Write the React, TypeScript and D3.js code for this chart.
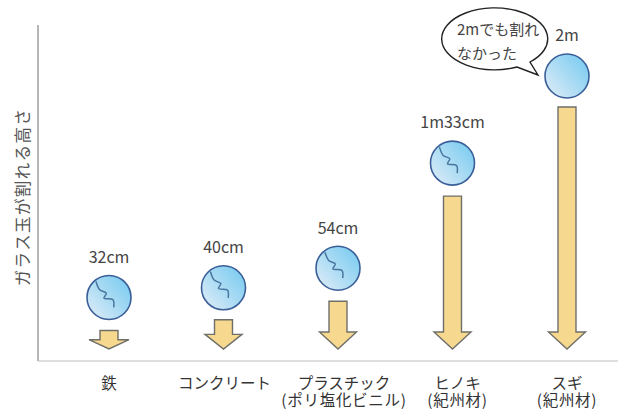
import * as d3 from "d3";

const W = 618;
const H = 411;
const FONT = "'Noto Sans CJK JP', 'Noto Sans', sans-serif";

// Categories, two-line labels, heights (cm)
const materials = ["鉄", "コンクリート", "プラスチック", "ヒノキ", "スギ"];
const subLabels = ["", "", "(ポリ塩化ビニル)", "(紀州材)", "(紀州材)"];
const heights = [32, 40, 54, 133, 200];
const heightLabels = ["32cm", "40cm", "54cm", "1m33cm", "2m"];
const cracked = [true, true, true, true, false];

// small layout nudges, the labels are not quite centred under the arrows
const labelNudge = [0, 1, 6, 5, 0];
const ballGaps = [33, 32, 33, 33, 31];

// crack shape, relative to ball centre
const crackPoints: [number, number][] = [
  [-13, -16], [-9.3, -7.7], [-2.7, -4.3], [-5, 0.7], [4, 2.3], [4.7, 10],
];

const BALL_R = 22;

export default function App() {
  const x = d3.scalePoint<string>().domain(materials).range([109, 567]);
  const y = d3.scaleLinear().domain([0, 200]).range([373, 107]);
  const crackLine = d3.line().curve(d3.curveCatmullRom);

  const arrowBottom = 349;
  const shaftW = 18;

  return (
    <svg
      width={W}
      height={H}
      style={{ position: "absolute", left: 0, top: 0, background: "#fff" }}
      fontFamily={FONT}
    >
      <defs>
        <linearGradient id="glass" x1="0.9" y1="0.15" x2="0.1" y2="0.85">
          <stop offset="0" stopColor="#7fcdf0" />
          <stop offset="1" stopColor="#d5e9f7" />
        </linearGradient>
      </defs>

      {/* Axes */}
      <line x1={38} x2={38} y1={25} y2={361} stroke="#6e6e6e" strokeWidth={1} />
      <line x1={38} x2={618} y1={361} y2={361} stroke="#bdbdbd" strokeWidth={1.2} />

      {/* Y label */}
      <text
        transform="translate(25,197) rotate(-90)"
        textAnchor="middle"
        dominantBaseline="middle"
        fontSize={16.5}
        letterSpacing={1.4}
        fill="#555"
      >
        ガラス玉が割れる高さ
      </text>

      {materials.map((m, i) => {
        const cx = x(m) ?? 0;
        const top = y(heights[i]);
        const cy = top - ballGaps[i];
        const len = arrowBottom - top;
        const headH = Math.min(17, len * 0.5);
        const headW = len < 25 ? 40 : 37;
        const headTop = arrowBottom - headH;
        const pts: [number, number][] = [
          [cx - shaftW / 2, top],
          [cx + shaftW / 2, top],
          [cx + shaftW / 2, headTop],
          [cx + headW / 2, headTop],
          [cx, arrowBottom],
          [cx - headW / 2, headTop],
          [cx - shaftW / 2, headTop],
        ];
        return (
          <g key={m}>
            <polygon
              points={pts.map((p) => p.join(",")).join(" ")}
              fill="#f6d88f"
              stroke="#6f6f6a"
              strokeWidth={1.4}
            />
            <circle cx={cx} cy={cy} r={BALL_R} fill="url(#glass)" stroke="#3a5f98" strokeWidth={1.6} />
            {cracked[i] && (
              <path
                transform={`translate(${cx},${cy})`}
                d={crackLine(crackPoints) ?? ""}
                fill="none"
                stroke="#47769f"
                strokeWidth={1.5}
              />
            )}
            <text x={cx} y={cy - 39} textAnchor="middle" dominantBaseline="middle" fontSize={16} fill="#444">
              {heightLabels[i]}
            </text>
            <text y={385} textAnchor="middle" dominantBaseline="middle" fontSize={15.5} fill="#333">
              <tspan x={cx + labelNudge[i]}>{m}</tspan>
              {subLabels[i] && (
                <tspan x={cx + labelNudge[i]} dy={17} letterSpacing={0.7}>
                  {subLabels[i]}
                </tspan>
              )}
            </text>
          </g>
        );
      })}

      {/* Speech bubble */}
      <path
        d="M 530 62 A 53 31 0 1 0 517 67 L 538 75 Z"
        fill="#fff"
        stroke="#222"
        strokeWidth={1.4}
        strokeLinejoin="miter"
      />
      <text x={457} y={31} dominantBaseline="middle" fontSize={15} fill="#444">
        2mでも割れ
      </text>
      <text x={457} y={55} dominantBaseline="middle" fontSize={15} fill="#444">
        なかった
      </text>
    </svg>
  );
}
